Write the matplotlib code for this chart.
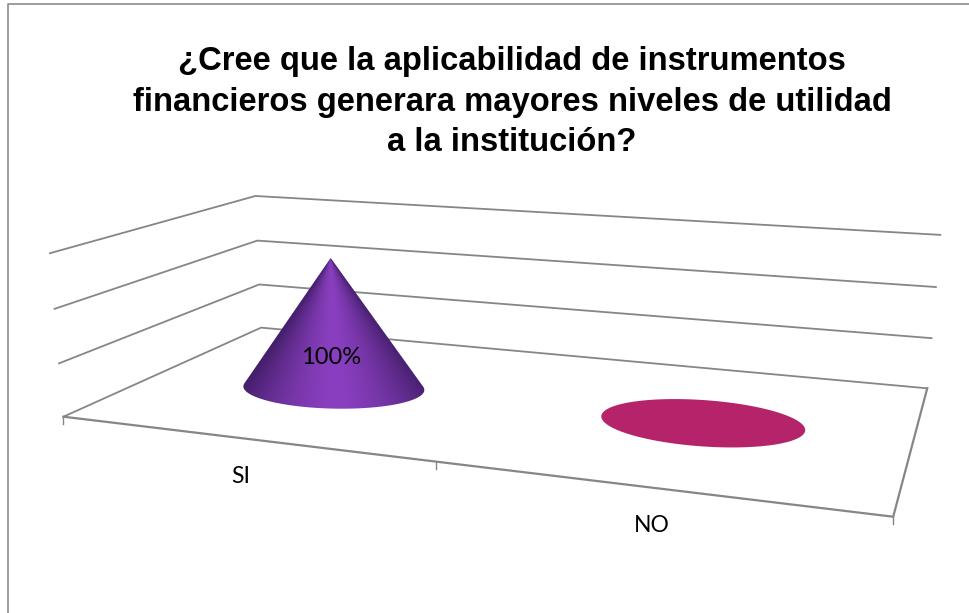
import numpy as np
import matplotlib
matplotlib.use('Agg')
import matplotlib.pyplot as plt
from matplotlib.patches import Polygon

# Data
categories = ['SI', 'NO']
values = [1.0, 0.0]
value_labels = ['100%', '']
value_levels = [0.0, 0.4, 0.8, 1.2]
title = '¿Cree que la aplicabilidad de instrumentos\nfinancieros generara mayores niveles de utilidad\na la institución?'

GRAY = '#868686'
NO_COLOR = '#b5246b'
DARK = np.array([0x45, 0x1f, 0x6c]) / 255
LIGHT = np.array([0x8a, 0x3f, 0xc0]) / 255
BASE_DEPTH = [0.47, 0.5]

# Excel's 3D box: box coords (category, depth, value) -> picture pixels
box_pts = [(0, 0, 0), (1, 0, 0), (2, 0, 0), (2, 1, 0), (0, 1, 0),
           (0, 0, .4), (0, 0, .8), (0, 0, 1.2),
           (0, 1, .4), (0, 1, .8), (0, 1, 1.2),
           (2, 1, .4), (2, 1, .8), (2, 1, 1.2)]
pix_pts = [(64, 416.5), (436, 462), (893, 517), (927, 388), (261, 328),
           (59, 363), (54, 309), (50, 253),
           (259, 284), (257, 241), (256, 196),
           (932, 338), (936, 287), (940, 235)]


def fit_camera(box, pix):
    rows = []
    for (x, y, z), (u, v) in zip(box, pix):
        rows.append([x, y, z, 1, 0, 0, 0, 0, -u*x, -u*y, -u*z, -u])
        rows.append([0, 0, 0, 0, x, y, z, 1, -v*x, -v*y, -v*z, -v])
    return np.linalg.svd(np.array(rows, dtype=float))[2][-1].reshape(3, 4)


cam = fit_camera(box_pts, pix_pts)


def proj(x, y, z):
    x, y, z = np.broadcast_arrays(x, y, z)
    p = cam @ np.array([x, y, z, np.ones_like(x)], dtype=float)
    return p[0] / p[2], p[1] / p[2]


def base_circle(center, depth, rx=0.25, ry=0.19):
    t = np.linspace(0, 2*np.pi, 361)[:-1]
    return proj(center + rx*np.cos(t), depth + ry*np.sin(t), 0.0)


def draw_cone(ax, center, depth, value):
    bx, by = base_circle(center + 0.012, depth)
    tx, ty = proj(center, 0.5, value)
    tx, ty = float(tx), float(ty)
    # tangent points seen from the tip
    ang = np.arctan2(bx - tx, by - ty)
    i_r, i_l = ang.argmax(), ang.argmin()
    n = len(bx)
    arc1 = [(i_r + k) % n for k in range((i_l - i_r) % n + 1)]
    arc2 = [(i_r - k) % n for k in range((i_r - i_l) % n + 1)]
    arc = arc1 if by[arc1].mean() > by[arc2].mean() else arc2
    outline = np.vstack([[tx, ty], np.column_stack([bx[arc], by[arc]])])
    patch = Polygon(outline, closed=True, transform=ax.transData, fc='none', ec='none')
    ax.add_patch(patch)

    x0, x1, y0, y1 = bx.min() - 2, bx.max() + 2, ty - 2, by.max() + 2
    xx, yy = np.meshgrid(np.linspace(x0, x1, 400), np.linspace(y0, y1, 300))
    left_slope = (bx[i_l] - tx) / (by[i_l] - ty)
    right_slope = (bx[i_r] - tx) / (by[i_r] - ty)
    half = (right_slope - left_slope) / 2
    f = (xx - tx) / (half * np.maximum(yy - ty, 1.0))
    f = np.clip(f - 0.06, -1, 1)
    shade = np.clip(1 - np.abs(f)**1.5, 0, 1)[..., None]
    img = DARK + (LIGHT - DARK) * shade
    im = ax.imshow(img, extent=(x0, x1, y1, y0), aspect='auto', zorder=3, interpolation='bilinear')
    im.set_clip_path(patch)


fig = plt.figure(figsize=(9.69, 6.13), dpi=100)
ax = fig.add_axes([0, 0, 1, 1])

# outer frame of the chart, cropped in the picture
ax.plot([8, 8, 969], [613, 4, 4], color='#8c8c8c', lw=1.2, zorder=1)

# walls and floor
for level in value_levels:
    wx, wy = proj([0, 0, 2], [0, 1, 1], level)
    ax.plot(wx, wy, color=GRAY, lw=1.3, zorder=1, solid_joinstyle='miter')
fx, fy = proj([0, 2, 2], [0, 0, 1], 0)
ax.plot(fx, fy, color=GRAY, lw=1.6, zorder=1, solid_joinstyle='miter')

# category ticks
for i in range(len(categories) + 1):
    tx, ty = proj(i, 0, 0)
    ax.plot([tx, tx], [ty, ty + 7], color=GRAY, lw=1.0, zorder=1)

# marks
for i, (cat, val, lab) in enumerate(zip(categories, values, value_labels)):
    center = i + 0.5
    if val > 0:
        draw_cone(ax, center, BASE_DEPTH[i], val)
    else:
        bx, by = base_circle(center, BASE_DEPTH[i])
        ax.fill(bx, by, color=NO_COLOR, lw=0, zorder=3)
    lx, ly = proj(center, 0, 0)
    ax.text(lx, ly + 38, cat, ha='center', va='center', family='Lato', fontsize=16.5, color='black', zorder=5)
    if lab:
        dx, dy = proj(center, 0.5, val * 0.21)
        ax.text(dx - 3, dy, lab, ha='center', va='center', family='Lato', fontsize=17, color='black', zorder=5)

ax.text(512, 102, title, ha='center', va='center', family='Liberation Sans', fontweight='bold',
        fontsize=23.6, linespacing=1.4, color='black')

ax.set_xlim(0, 969)
ax.set_ylim(613, 0)
ax.axis('off')
fig.savefig('out.png', dpi=100)
